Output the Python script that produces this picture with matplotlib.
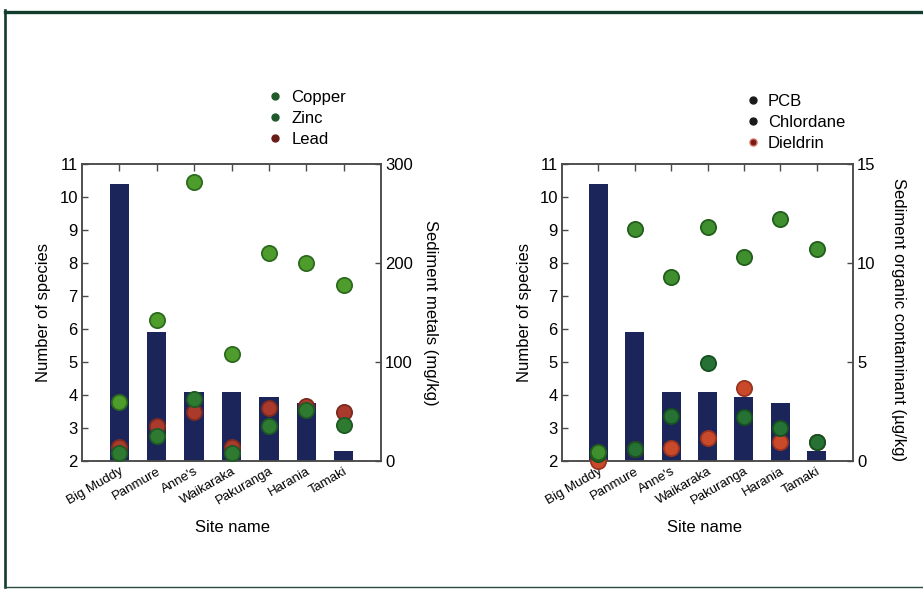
import matplotlib
matplotlib.use("Agg")
import matplotlib.pyplot as plt
from matplotlib.lines import Line2D
from matplotlib.transforms import ScaledTranslation

plt.rcParams['font.family'] = ['Liberation Sans', 'DejaVu Sans']

# ---- data -------------------------------------------------------------
sites = ["Big Muddy", "Panmure", "Anne's", "Waikaraka", "Pakuranga", "Harania", "Tamaki"]
species = [10.4, 5.9, 4.1, 4.1, 3.95, 3.75, 2.3]

# sediment metals (mg/kg)
copper = [8, 25, 63, 8, 35, 52, 36]
zinc = [60, 142, 282, 108, 210, 200, 178]
lead = [14, 35, 49, 14, 54, 56, 49]

# sediment organic contaminants (ug/kg)
pcb = [0.35, 0.6, 2.25, 4.95, 2.2, 1.65, 0.95]
chlordane = [0.45, 11.7, 9.3, 11.8, 10.3, 12.2, 10.7]
dieldrin = [0.0, 0.6, 0.67, 1.18, 3.7, 0.95, 0.95]

species_ticks = list(range(2, 12))
metal_ticks = [0, 100, 200, 300]
organic_ticks = [0, 5, 10, 15]

# ---- style ------------------------------------------------------------
BAR = '#1b2559'
SPINE = '#4a4a4a'
W, H = 923, 589
fig = plt.figure(figsize=(W / 100, H / 100), dpi=100)
fig.patch.set_facecolor('white')

x = list(range(1, len(sites) + 1))


def px_rect(x0, y0, x1, y1):
    return [x0 / W, 1 - y1 / H, (x1 - x0) / W, (y1 - y0) / H]


def base_panel(rect, right_lim, right_ticks, right_label, right_label_y, site_x):
    ax = fig.add_axes(rect)
    ax.bar(x, species, width=0.52, color=BAR, zorder=1)
    ax.set_xlim(0, 8)
    ax.set_ylim(2, 11)
    ax.set_yticks(species_ticks)
    ax.set_xticks(x)
    ax.set_xticklabels(sites, rotation=30, ha='right', va='top',
                       rotation_mode='anchor', fontsize=9.5)
    shift = ScaledTranslation(7 / 100, 0, fig.dpi_scale_trans)
    for lab in ax.get_xticklabels():
        lab.set_transform(lab.get_transform() + shift)
    ax.tick_params(axis='x', which='both', top=True, bottom=False,
                   direction='in', length=5, width=1, color=SPINE, pad=3)
    ax.tick_params(axis='y', direction='in', length=4, width=1, color=SPINE,
                   labelsize=12, pad=3)
    ax.set_ylabel('Number of species', fontsize=12, va='center')
    ax.yaxis.set_label_coords(-0.13, 0.5)
    ax.set_xlabel('Site name', fontsize=12, va='center')
    ax.xaxis.set_label_coords(site_x, -0.225)
    for s in ax.spines.values():
        s.set_color(SPINE)
        s.set_linewidth(1.1)

    ax2 = ax.twinx()
    ax2.set_ylim(*right_lim)
    ax2.set_yticks(right_ticks)
    ax2.tick_params(axis='y', direction='in', length=4, width=1, color=SPINE,
                    labelsize=12, pad=3)
    ax2.set_ylabel(right_label, fontsize=12, rotation=270, va='center', ha='center')
    ax2.yaxis.set_label_coords(right_label_y[0], right_label_y[1])
    for s in ax2.spines.values():
        s.set_color(SPINE)
        s.set_linewidth(1.1)
    return ax, ax2


def dots(ax, values, face, edge):
    ax.scatter(x, values, s=120, c=face, edgecolors=edge, linewidths=1.3,
               zorder=3, clip_on=False)


# ---- left panel: metals ----------------------------------------------
axL, axL2 = base_panel(px_rect(82, 164, 381, 461), (0, 300), metal_ticks,
                       'Sediment metals (mg/kg)', (1.165, 0.5), 0.503)
dots(axL2, lead, '#a93a2c', '#7d2a20')
dots(axL2, copper, '#2e7a30', '#1e5a24')
dots(axL2, zinc, '#4e9c2c', '#2c6a1e')

axL.legend(handles=[
    Line2D([], [], ls='', marker='o', markersize=5, color='#1f5a2a', label='Copper'),
    Line2D([], [], ls='', marker='o', markersize=5, color='#1f5a2a', label='Zinc'),
    Line2D([], [], ls='', marker='o', markersize=5, color='#6a1c16', label='Lead'),
], loc='upper left', bbox_to_anchor=(268 / W, 1 - 90 / H),
    bbox_transform=fig.transFigure, frameon=False, fontsize=12,
    handlelength=0.8, handletextpad=0.6, labelspacing=0.36,
    borderpad=0, borderaxespad=0)

# ---- right panel: organic contaminants -------------------------------
axR, axR2 = base_panel(px_rect(562, 164, 853, 461), (0, 15), organic_ticks,
                       'Sediment organic contaminant (\u00b5g/kg)', (1.155, 0.475), 0.49)
dots(axR2, dieldrin, '#c9492b', '#9a3320')
dots(axR2, pcb, '#267234', '#17501f')
dots(axR2, chlordane, '#3f8f2e', '#225e1c')

axR.legend(handles=[
    Line2D([], [], ls='', marker='o', markersize=5, color='#1a1a1a', label='PCB'),
    Line2D([], [], ls='', marker='o', markersize=5, color='#1a1a1a', label='Chlordane'),
    Line2D([], [], ls='', marker='o', markersize=5, color='#7a1a12',
           markeredgecolor='#c86a5a', label='Dieldrin'),
], loc='upper left', bbox_to_anchor=(746 / W, 1 - 94 / H),
    bbox_transform=fig.transFigure, frameon=False, fontsize=12,
    handlelength=0.8, handletextpad=0.5, labelspacing=0.36,
    borderpad=0, borderaxespad=0)

# ---- page frame -------------------------------------------------------
FRAME = '#123c2c'
fig.add_artist(Line2D([5 / W, 1], [1 - 11.5 / H, 1 - 11.5 / H],
                      transform=fig.transFigure, color=FRAME, lw=2.4))
fig.add_artist(Line2D([5 / W, 5 / W], [1 - 10 / H, 1 - 587 / H],
                      transform=fig.transFigure, color=FRAME, lw=1.9))
fig.add_artist(Line2D([5 / W, 1], [1 - 587 / H, 1 - 587 / H],
                      transform=fig.transFigure, color='#2a4a3c', lw=1.0))

fig.savefig('out.png', dpi=100, facecolor='white')
